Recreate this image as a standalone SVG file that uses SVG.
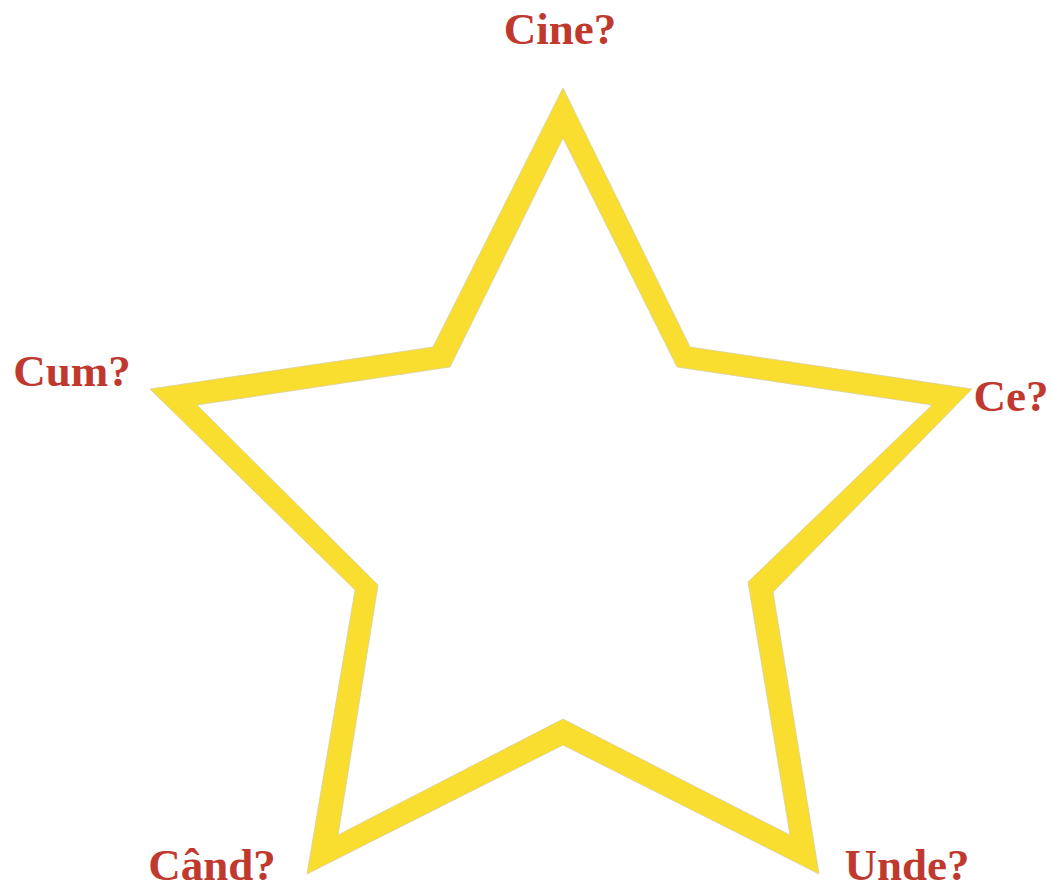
<svg xmlns="http://www.w3.org/2000/svg" width="1052" height="892" viewBox="0 0 1052 892">
<style>
.lbl{font-family:"Liberation Serif","DejaVu Serif",serif;font-weight:bold;font-size:45px;fill:#C0392F;text-anchor:middle}
.star{fill:#F9DD2F;fill-rule:evenodd;stroke:#D8CFA0;stroke-width:0.8}
</style>
<rect width="1052" height="892" fill="#ffffff"/>
<g id="star">
<path class="star" d="M563,88 L690,347 L972,389 L773,592 L819,874 L563,745 L307,874 L355,590 L150,389 L433,347 Z M563,138 L450,367 L197,405 L378,585 L338,835 L563,719 L790,835 L748,582 L932,405 L677,367 Z"/>
</g>
<g id="label-cine"><text class="lbl" x="560" y="44">Cine?</text></g>
<g id="label-cum"><text class="lbl" x="72" y="386">Cum?</text></g>
<g id="label-ce"><text class="lbl" x="1011" y="411">Ce?</text></g>
<g id="label-cand"><text class="lbl" x="212" y="880">Când?</text></g>
<g id="label-unde"><text class="lbl" x="907" y="880">Unde?</text></g>
</svg>
